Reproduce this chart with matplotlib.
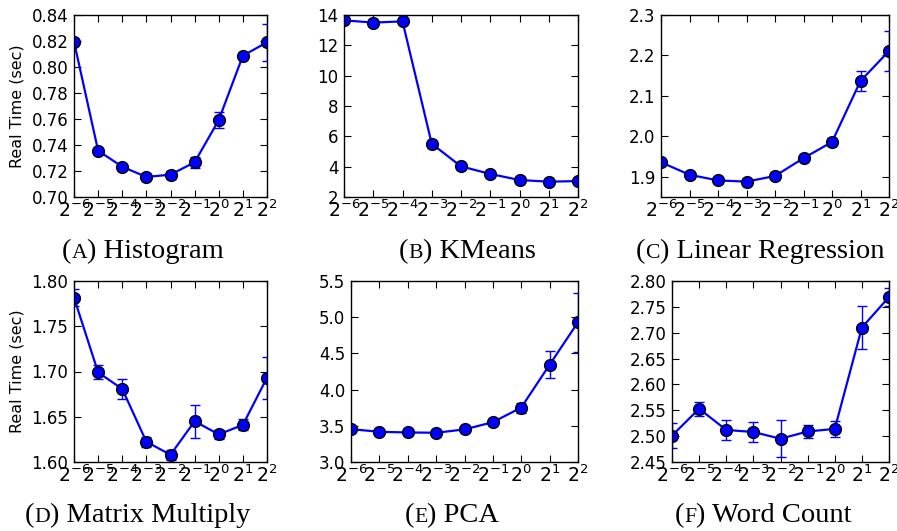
import matplotlib
matplotlib.use("Agg")
import matplotlib.pyplot as plt
from matplotlib.ticker import FixedLocator, FixedFormatter, NullLocator, FormatStrFormatter

plt.rcParams["mathtext.default"] = "regular"
plt.rcParams["font.family"] = "DejaVu Sans"
plt.rcParams["axes.unicode_minus"] = False

# Input-size scale factors (powers of two)
exponents = [-6, -5, -4, -3, -2, -1, 0, 1, 2]
x_vals = [2.0 ** e for e in exponents]
x_tick_labels = [r"$\mathdefault{2^{%d}}$" % e for e in exponents]

# Mean real time (sec) and error for each benchmark
hist_mean = [0.8195, 0.7356, 0.7233, 0.7154, 0.7172, 0.7267, 0.7592, 0.8087, 0.8190]
hist_err = [0.001, 0.001, 0.001, 0.001, 0.003, 0.0042, 0.0059, 0.001, 0.0142]

kmeans_mean = [13.65, 13.50, 13.58, 5.51, 4.02, 3.52, 3.12, 3.01, 3.05]
kmeans_err = [0.05, 0.05, 0.05, 0.05, 0.05, 0.05, 0.05, 0.05, 0.05]

linreg_mean = [1.936, 1.905, 1.891, 1.888, 1.902, 1.946, 1.986, 2.137, 2.211]
linreg_err = [0.002, 0.002, 0.002, 0.002, 0.002, 0.002, 0.011, 0.0255, 0.05]

matmul_mean = [1.7817, 1.699, 1.6807, 1.6224, 1.608, 1.645, 1.6305, 1.641, 1.6932]
matmul_err = [0.009, 0.0077, 0.011, 0.0055, 0.0055, 0.018, 0.005, 0.006, 0.0233]

pca_mean = [3.454, 3.417, 3.408, 3.404, 3.45, 3.55, 3.752, 4.344, 4.931]
pca_err = [0.01, 0.01, 0.01, 0.01, 0.01, 0.01, 0.069, 0.188, 0.41]

wc_mean = [2.501, 2.553, 2.512, 2.508, 2.495, 2.509, 2.514, 2.710, 2.769]
wc_err = [0.0246, 0.0134, 0.019, 0.0195, 0.036, 0.012, 0.015, 0.0416, 0.017]

captions = [("A", "Histogram"), ("B", "KMeans"), ("C", "Linear Regression"),
            ("D", "Matrix Multiply"), ("E", "PCA"), ("F", "Word Count")]

W, H = 897, 531
fig = plt.figure(figsize=(W / 100, H / 100), dpi=100)


def add_axes_px(left, right, top, bottom):
    return fig.add_axes([left / W, 1 - bottom / H, (right - left) / W, (bottom - top) / H])


panels = [
    # (axes box px, mean, err, ylim, yticks, fmt, ylabel, caption center x, caption baseline y)
    ((74, 267, 15, 197), hist_mean, hist_err, (0.70, 0.84),
     [0.70, 0.72, 0.74, 0.76, 0.78, 0.80, 0.82, 0.84], "%.2f", True, 143, 258),
    ((344, 578, 15, 197), kmeans_mean, kmeans_err, (2, 14),
     [2, 4, 6, 8, 10, 12, 14], "%d", False, 467, 258),
    ((661, 889, 15, 197), linreg_mean, linreg_err, (1.85, 2.3),
     [1.9, 2.0, 2.1, 2.2, 2.3], "%.1f", False, 760, 258),
    ((74, 267, 281, 462), matmul_mean, matmul_err, (1.60, 1.80),
     [1.60, 1.65, 1.70, 1.75, 1.80], "%.2f", True, 138, 522),
    ((351, 578, 281, 462), pca_mean, pca_err, (3.0, 5.5),
     [3.0, 3.5, 4.0, 4.5, 5.0, 5.5], "%.1f", False, 452, 522),
    ((672, 889, 281, 462), wc_mean, wc_err, (2.45, 2.80),
     [2.45, 2.50, 2.55, 2.60, 2.65, 2.70, 2.75, 2.80], "%.2f", False, 763, 522),
]

for box, mean, err, ylim, yticks, fmt, ylab, cx, cy in panels:
    ax = add_axes_px(*box)
    ax.set_xscale("log", base=2)
    ax.errorbar(x_vals, mean, yerr=err, fmt="o-", color="blue", lw=1.6,
                ms=8.5, mfc="blue", mec="black", mew=1.0,
                ecolor="blue", elinewidth=1.0, capsize=3.5, capthick=1.0)
    ax.set_xlim(x_vals[0], x_vals[-1])
    ax.set_ylim(*ylim)
    ax.xaxis.set_major_locator(FixedLocator(x_vals))
    ax.xaxis.set_major_formatter(FixedFormatter(x_tick_labels))
    ax.xaxis.set_minor_locator(NullLocator())
    ax.yaxis.set_major_locator(FixedLocator(yticks))
    ax.yaxis.set_major_formatter(FormatStrFormatter(fmt))
    ax.tick_params(direction="in", top=True, right=True, length=5, width=0.8, pad=4)
    ax.tick_params(axis="y", labelsize=12)
    ax.tick_params(axis="x", labelsize=13.5, pad=2)
    for sp in ax.spines.values():
        sp.set_linewidth(1.0)
    if ylab:
        ax.set_ylabel("Real Time (sec)", fontsize=11.5, labelpad=5)

renderer = fig.canvas.get_renderer()
cap_family = "Liberation Serif"
cap_size = 20.5


def caption(cx, base_y, letter, name):
    # Small-caps letter in parentheses followed by the benchmark name
    pieces = [("(", cap_size), (letter, cap_size * 0.76), (") " + name, cap_size)]
    widths = []
    for s, fs in pieces:
        t = fig.text(0, 0, s, fontsize=fs, family=cap_family)
        widths.append(t.get_window_extent(renderer).width)
        t.remove()
    left = cx - sum(widths) / 2
    for (s, fs), w in zip(pieces, widths):
        fig.text(left / W, 1 - base_y / H, s, fontsize=fs, family=cap_family,
                 ha="left", va="baseline")
        left += w


for (letter, name), p in zip(captions, panels):
    caption(p[-2], p[-1], letter, name)

fig.savefig("out.png", dpi=100)
